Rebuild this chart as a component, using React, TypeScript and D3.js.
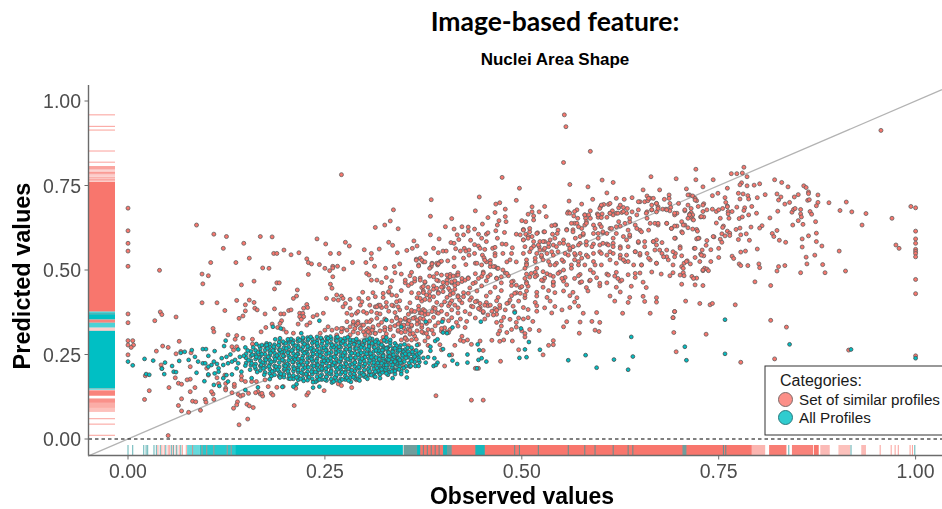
import React from "react";
import * as d3 from "d3";

const xTicks = [0, 0.25, 0.5, 0.75, 1];
const yTicks = [0, 0.25, 0.5, 0.75, 1];
const categories = ["Set of similar profiles", "All Profiles"];

const similarLeft = [[0,.683],[0,.616],[0,.579],[0,.556],[0,.511],[.087,.633],[.109,.606],[.121,.564],[.125,.599],[.105,.522],[.137,.522],[.147,.579],[.154,.535],[.168,.599],[.183,.598],[.171,.506],[.179,.505],[.185,.549],[.189,.549],[.198,.559],[.207,.545],[.217,.551],[.227,.533],[.229,.522],[.233,.518],[.240,.592],[.251,.577],[.257,.549],[.243,.516],[.250,.505],[.260,.511],[.260,.506],[.266,.511],[.268,.549],[.274,.503],[.271,.782],[.276,.582],[.281,.571],[.285,.522],[.300,.560],[.302,.522],[.309,.549],[.309,.533],[.313,.511],[.314,.626],[.319,.562],[.040,.499],
[.094,.488],[.102,.483],[.095,.459],[.144,.456],[.160,.467],[.189,.462],[.192,.462],[.186,.444],[.215,.441],[.214,.423],[.210,.416],[.229,.487],[.257,.458],[.259,.446],[.256,.498],[.260,.480],[.303,.490],[.306,.485],[.309,.470],[.316,.470],[.298,.434],[.311,.433],[.265,.426],[.271,.423],[.252,.416],[.261,.413],[.267,.411],[.273,.416],[.282,.413],[.276,.401],[.273,.391],[.282,.387],[.293,.416],[.297,.406],[.305,.416],[.314,.421],[.094,.403],[.113,.403],[.138,.410],[.154,.411],[.160,.404],[.149,.397],[.149,.379],[.123,.380],[.161,.387],[.164,.382],[.146,.364],[.141,.357],[.174,.370],[.186,.385],[.194,.370],[.198,.370],[.204,.380],[.207,.382],[.218,.372],[.222,.372],[.218,.362],[.223,.362],[.220,.354],[.227,.398],[.228,.389],[.223,.387],[.240,.367],[.248,.372],[.235,.362],[.195,.350],[.193,.342],[.183,.340],[.175,.330],[.169,.317],[.190,.330],[.197,.325],[.201,.316],[.227,.337],[.231,.344],[.216,.340],[.210,.313],[0,.370],[0,.344],[.041,.376],[.043,.368],[.034,.350],[.061,.361],[.108,.327],[.109,.317],[0,.291],[0,.278],[.006,.291],[.007,.278],[.004,.271],[0,.249],[.065,.289],[.044,.275],[.051,.271],[.036,.260],[.061,.252],[.067,.259],[.042,.219],[.043,.209],[.022,.187],[.060,.181],[.079,.177],[.075,.175],[.064,.165],[.068,.162],[.052,.152],[.027,.143],[.021,.117],[.085,.152],[.079,.140],[.068,.119],[.082,.112],[.086,.110],[.064,.099],[.068,.083],[.077,.079],[.092,.085],[.098,.117],[.099,.109],[.108,.133],[.109,.117],[.106,.140],[.124,.150],[.124,.145],[.135,.155],[.113,.181],[.123,.189],[.102,.189],[.132,.137],[.140,.132],[.143,.127],[.146,.130],[.139,.110],[.138,.101],[.134,.091],[.151,.103],[.154,.098],[.159,.093],[.152,.059],[.141,.042],[.051,.010],[.211,.099],[.165,.140],[.168,.133],[.171,.127],[.170,.135],[.153,.135],[.162,.137],[.178,.155],[.182,.135],[.184,.130],[.189,.153],[.197,.155],[.227,.130],[.229,.137],[.249,.143],[.267,.163],[.271,.158],[.284,.152],[.290,.175],[.213,.150],[.144,.186],[.149,.170],[.144,.175],[.157,.170],[.163,.170],[.174,.175],[.127,.308],[.138,.306],[.136,.295],[.146,.298],[.158,.295],[.158,.281],[.132,.273],[.138,.273],[.134,.263],[.079,.214],[.080,.255],[.100,.209],[.124,.164],[.135,.162],[.115,.164],
[.244,.313],[.250,.322],[.254,.332],[.259,.322],[.265,.327],[.271,.317],[.273,.327],[.278,.322],[.282,.332],[.286,.342],[.292,.347],[.297,.337],[.303,.347],[.309,.352],[.316,.357],[.299,.317],[.305,.327],[.311,.327],[.318,.337],[.301,.308],[.307,.313],[.314,.313],[.292,.313],[.286,.317],[.282,.308],[.265,.308],[.290,.337],[.303,.372],[.309,.377],[.316,.372],[.290,.372],[.284,.367],[.278,.372],[.299,.377],[.307,.396],[.314,.391],[.318,.396],[.295,.396],[.292,.377]];

const similarTop = [[.554,.959],[.556,.924],[.587,.851],[.553,.818],[.475,.774],[.497,.742],[.446,.716],[.385,.708],[.493,.706],[.337,.678],[.472,.699],[.467,.695],[.479,.680],[.466,.670],[.441,.675],[.384,.659],[.457,.655],[.479,.658],[.471,.646],[.333,.645],[.326,.633],[.343,.622],[.411,.652],[.403,.628],[.424,.628],[.432,.627],[.414,.621],[.440,.621],[.450,.636],[.469,.633],[.467,.616],[.480,.643],[.432,.615],[.418,.604],[.426,.604],[.445,.606],[.455,.606],[.457,.610],[.478,.611],[.384,.604],[.395,.592],[.363,.586],[.331,.582],[.336,.573],[.342,.551],[.367,.571],[.361,.564],[.354,.558],[.388,.564],[.394,.551],[.400,.556],[.404,.556],[.378,.549],[.410,.581],[.414,.579],[.420,.590],[.435,.588],[.440,.575],[.445,.571],[.449,.594],[.455,.584],[.469,.594],[.475,.577],[.480,.576],[.488,.566],[.416,.563],[.422,.556],[.427,.564],[.429,.556],[.433,.559],[.433,.544],[.440,.549],[.447,.564],[.453,.561],[.463,.564],[.466,.567],[.466,.549],[.466,.542],[.450,.544],[.452,.536],[.476,.549],[.487,.549],[.426,.535],[.414,.536],[.406,.527],[.396,.524],[.393,.515],[.386,.520],[.385,.510],[.375,.524],[.369,.515],[.371,.535],[.366,.532],[.345,.518],[.338,.510],[.327,.505],[.441,.520],[.429,.516],[.414,.510],[.455,.524],[.460,.528],[.466,.510],[.460,.510],[.469,.505],[.481,.524],[.485,.530],[.493,.524],[.506,.520],
[.493,.606],[.500,.646],[.505,.643],[.508,.665],[.513,.672],[.513,.687],[.515,.660],[.515,.648],[.522,.672],[.529,.688],[.531,.658],[.502,.620],[.498,.604],[.505,.606],[.510,.613],[.513,.599],[.520,.610],[.528,.613],[.538,.631],[.543,.633],[.546,.618],[.539,.606],[.545,.608],[.557,.620],[.565,.619],[.567,.638],[.561,.753],[.584,.746],[.602,.766],[.616,.759],[.664,.776],[.696,.770],[.654,.737],[.675,.737],[.608,.728],[.620,.712],[.630,.709],[.640,.714],[.659,.719],[.663,.712],[.667,.712],[.681,.709],[.687,.722],[.687,.712],[.560,.704],[.590,.709],[.576,.695],[.559,.672],[.558,.668],[.570,.678],[.566,.660],[.571,.653],[.580,.663],[.585,.663],[.581,.653],[.587,.675],[.600,.687],[.604,.694],[.610,.694],[.599,.682],[.596,.666],[.597,.656],[.602,.666],[.601,.655],[.612,.668],[.615,.675],[.608,.656],[.616,.663],[.620,.668],[.627,.670],[.623,.684],[.629,.685],[.634,.682],[.633,.668],[.640,.672],[.650,.702],[.656,.702],[.660,.705],[.665,.692],[.671,.697],[.673,.687],[.679,.680],[.683,.680],[.688,.697],[.689,.685],[.699,.697],[.648,.678],[.659,.672],[.665,.678],[.671,.672],[.688,.675],[.697,.668],[.694,.663],[.570,.638],[.576,.623],[.582,.643],[.580,.633],[.591,.633],[.599,.635],[.601,.628],[.612,.623],[.623,.643],[.631,.638],[.637,.643],[.644,.633],[.620,.628],[.635,.618],[.650,.618],[.659,.653],[.663,.638],[.669,.638],[.673,.633],[.684,.638],[.690,.623],[.697,.630],[.695,.594],[.667,.584],[.671,.589],[.678,.581],[.656,.584],[.648,.581],[.616,.594],[.629,.599],[.637,.599],[.608,.608],[.603,.610],[.597,.608],[.591,.608],[.574,.599],[.568,.594],[.578,.604],[.553,.589],[.559,.574],[.565,.569],[.574,.579],[.582,.574],[.591,.577],[.599,.574],[.608,.577],[.616,.579],[.625,.569],[.635,.569],[.523,.584],[.529,.584],[.536,.589],[.542,.594],[.548,.579],[.502,.589],[.508,.599],[.515,.571],[.522,.569],[.528,.559],[.534,.569],[.540,.574],
[.502,.549],[.510,.554],[.519,.549],[.525,.539],[.532,.549],[.540,.544],[.546,.554],[.555,.549],[.561,.559],[.568,.544],[.574,.549],[.582,.544],[.591,.549],[.599,.554],[.608,.544],[.616,.549],[.625,.544],[.633,.544],[.644,.554],[.650,.544],[.659,.549],[.669,.559],[.678,.549],[.684,.539],[.695,.549],[.506,.515],[.517,.525],[.527,.530],[.536,.515],[.544,.520],[.553,.525],[.563,.515],[.572,.525],[.580,.515],[.591,.525],[.601,.515],[.612,.530],[.620,.520],[.631,.525],[.642,.515],[.652,.515],[.663,.530],[.671,.520],[.686,.530],[.692,.515]];

const similarMiddle = [[.339,.492],[.347,.488],[.360,.493],[.409,.487],[.419,.492],[.441,.489],[.451,.494],[.460,.486],[.479,.491],[.506,.488],[.517,.493],[.532,.489],[.548,.494],[.574,.487],[.591,.492],[.608,.488],[.620,.493],[.635,.486],[.650,.491],[.665,.494],[.677,.488],[.692,.492],
[.328,.478],[.358,.483],[.371,.476],[.383,.482],[.407,.478],[.417,.484],[.432,.477],[.449,.481],[.468,.476],[.483,.483],[.510,.479],[.519,.484],[.529,.476],[.540,.481],[.555,.478],[.572,.483],[.595,.477],[.618,.482],[.644,.478],[.688,.483],
[.322,.463],[.335,.468],[.352,.462],[.364,.467],[.377,.463],[.394,.468],[.411,.462],[.424,.466],[.441,.463],[.455,.468],[.474,.462],[.489,.467],[.506,.464],[.527,.468],[.540,.462],[.553,.467],[.574,.463],[.586,.468],[.608,.462],[.625,.467],[.654,.464],
[.333,.449],[.356,.454],[.373,.448],[.388,.453],[.400,.449],[.415,.454],[.434,.447],[.449,.453],[.466,.449],[.487,.454],[.498,.448],[.508,.452],[.527,.449],[.540,.454],[.582,.448],[.599,.453],[.620,.449],[.639,.452],[.658,.448],
[.331,.434],[.347,.439],[.360,.433],[.375,.438],[.394,.434],[.409,.439],[.426,.433],[.443,.438],[.460,.434],[.474,.439],[.493,.433],[.506,.438],[.519,.434],[.534,.439],[.542,.433],[.553,.438],[.565,.434],[.584,.438],[.625,.435],
[.324,.419],[.341,.424],[.367,.418],[.383,.423],[.405,.419],[.419,.424],[.436,.418],[.455,.423],[.470,.419],[.487,.424],[.504,.418],[.519,.423],[.532,.419],[.561,.424],[.570,.418],[.612,.423],[.637,.419],[.654,.422],[.671,.418],
[.328,.404],[.345,.409],[.358,.403],[.373,.408],[.392,.404],[.411,.409],[.424,.403],[.443,.408],[.455,.404],[.468,.409],[.483,.403],[.496,.408],[.517,.404],[.536,.408],[.567,.405],[.618,.408],[.635,.404],[.656,.407],[.671,.405],
[.322,.389],[.337,.394],[.354,.388],[.369,.393],[.388,.389],[.407,.394],[.419,.388],[.436,.393],[.447,.389],[.457,.394],[.472,.388],[.489,.393],[.502,.389],[.519,.394],[.529,.388],[.542,.392],[.561,.389],[.572,.393],
[.331,.378],[.345,.382],[.360,.377],[.375,.383],[.398,.378],[.411,.382],[.428,.377],[.447,.383],[.462,.378],[.479,.382],[.491,.377],[.508,.383],[.519,.378],[.551,.382],
[.320,.370],[.339,.374],[.356,.369],[.371,.373],[.377,.368],[.392,.374],[.405,.369],[.419,.373],[.434,.370],[.451,.374],[.468,.369],[.538,.373],[.578,.372],[.595,.374],[.628,.372],[.663,.372],[.694,.377],
[.326,.355],[.341,.360],[.352,.354],[.364,.359],[.375,.355],[.388,.360],[.400,.354],[.411,.359],[.422,.355],[.441,.358],[.453,.355],[.477,.360],[.485,.354],[.496,.358],[.502,.355],[.508,.359],[.692,.359],
[.322,.345],[.335,.349],[.345,.344],[.356,.350],[.369,.345],[.383,.349],[.394,.344],[.407,.350],[.417,.345],[.430,.348],[.468,.345],[.474,.349],[.493,.345],[.514,.348],[.557,.347],[.574,.346],[.589,.348],[.599,.345],
[.326,.330],[.339,.335],[.350,.329],[.360,.334],[.373,.330],[.390,.335],[.402,.329],[.419,.334],[.428,.330],[.474,.334],[.493,.331],[.553,.332],
[.320,.320],[.333,.324],[.343,.319],[.356,.325],[.367,.320],[.381,.324],[.398,.319],[.409,.324],[.472,.320],[.487,.324],[.500,.320],[.510,.324],[.522,.321],[.593,.322],[.598,.318],
[.328,.311],[.347,.315],[.358,.310],[.375,.314],[.388,.311],[.407,.315],[.470,.311],[.481,.315],[.504,.312],[.573,.313],
[.324,.301],[.337,.305],[.352,.300],[.364,.304],[.381,.301],[.424,.304],[.504,.302],
[.322,.289],[.354,.293],[.377,.290],[.422,.292],[.426,.289],[.431,.293],[.447,.290],[.462,.292],[.472,.289],[.477,.293],[.488,.290],[.540,.291],
[.356,.276],[.369,.280],[.381,.277],[.396,.279],[.415,.277],[.436,.280],[.534,.277],[.540,.279],
[.362,.262],[.398,.264],[.451,.262],[.496,.264],[.411,.249],[.527,.249],[.693,.315],[.696,.258],[.692,.359],[.694,.377],[.473,.230],[.402,.216],[.445,.209],[.441,.209],[.391,.128],[.436,.115],[.451,.115],[.350,.214],[.341,.231]];

const similarRight = [[.956,.913],[.721,.798],[.721,.767],[.743,.767],[.766,.785],[.773,.785],[.780,.787],[.782,.804],[.786,.776],[.779,.758],[.777,.752],[.786,.749],[.795,.751],[.802,.755],[.821,.767],[.830,.759],[.838,.746],[.858,.749],[.861,.744],[.864,.731],[.864,.726],[.876,.722],[.709,.740],[.730,.746],[.761,.742],[.713,.722],[.717,.719],[.720,.712],[.722,.705],[.742,.720],[.749,.727],[.775,.727],[.781,.725],[.787,.720],[.788,.710],[.777,.710],[.758,.714],[.759,.700],[.761,.689],[.799,.714],[.809,.723],[.824,.725],[.829,.716],[.826,.707],[.846,.716],[.851,.723],[.840,.700],[.834,.695],[.863,.706],[.865,.708],[.876,.700],[.874,.690],[.890,.699],[.912,.701],[.994,.688],[1,.684],[.711,.692],[.724,.688],[.731,.696],[.715,.682],[.707,.675],[.715,.670],[.713,.665],[.717,.663],[.714,.658],[.711,.653],[.717,.650],[.730,.673],[.735,.678],[.742,.680],[.747,.673],[.750,.678],[.755,.682],[.761,.687],[.762,.673],[.767,.673],[.762,.666],[.773,.686],[.783,.684],[.782,.676],[.792,.688],[.727,.657],[.731,.657],[.752,.653],[.763,.653],[.776,.652],[.780,.657],[.788,.663],[.798,.668],[.825,.674],[.815,.654],[.843,.671],[.845,.679],[.847,.682],[.854,.679],[.854,.666],[.855,.657],[.866,.673],[.868,.665],[.904,.676],[.919,.672],[.937,.667],[.970,.653],[.703,.643],[.707,.633],[.711,.625],[.717,.621],[.722,.620],[.723,.615],[.703,.613],[.704,.610],[.747,.639],[.756,.630],[.755,.626],[.851,.646],[.844,.633],[.857,.635],[.873,.643],[.932,.633],[.772,.620],[.777,.624],[.791,.627],[.805,.631],[.802,.624],[.761,.615],[.764,.609],[.764,.602],[.754,.607],[.758,.601],[.778,.604],[.785,.607],[.744,.598],[.725,.594],[.722,.592],[.752,.591],[.754,.582],[.735,.587],[.734,.573],[.775,.590],[.789,.588],[.818,.608],[.820,.599],[.824,.617],[.827,.588],[.835,.582],[.874,.609],[.864,.601],[.856,.592],[.874,.584],[.856,.568],[.881,.571],[1,.615],[1,.592],[1,.579],[1,.561],[1,.555],[1,.549],[1,.539],[.975,.574],[.979,.564],[.903,.556],[.701,.569],[.719,.564],[.750,.564],[.740,.560],[.729,.559],[.727,.547],[.731,.542],[.720,.537],[.703,.542],[.750,.537],[.740,.525],[.726,.525],[.710,.527],[.706,.520],[.714,.518],[.778,.553],[.784,.556],[.799,.562],[.767,.541],[.769,.534],[.776,.518],[.778,.513],[.787,.513],[.801,.518],[.802,.507],[.826,.510],[.834,.513],[.861,.538],[.872,.544],[.862,.518],[.882,.516],[.732,.505],[.735,.503],[.703,.510],
[.705,.492],[.706,.483],[.716,.481],[.722,.476],[.703,.458],[.720,.456],[.730,.454],[.730,.498],[.737,.498],[.708,.408],[.726,.401],[.739,.397],[.742,.401],[.771,.397],[.796,.465],[.816,.454],[.824,.497],[.854,.492],[.885,.492],[.911,.497],[1,.472],[1,.430],[.816,.351],[.836,.331],[.734,.310],[.778,.227],[.821,.237],[.915,.263],[1,.246]];

const similarDenseLow = [[.405,.485],[.409,.480],[.413,.482],[.419,.485],[.424,.475],[.428,.470],[.411,.465],[.415,.468],[.405,.470],[.419,.460],[.400,.451],[.407,.446],[.415,.443],
[.369,.431],[.375,.433],[.379,.426],[.383,.436],[.371,.416],[.377,.413],[.383,.411],[.388,.421],[.394,.431],[.400,.436],[.409,.426],[.413,.431],[.419,.421],
[.360,.381],[.364,.377],[.369,.383],[.373,.372],[.377,.379],[.381,.370],[.386,.377],[.390,.386],[.394,.372],[.398,.396],[.402,.406],[.409,.401],[.415,.396],[.421,.411],
[.341,.357],[.346,.352],[.352,.357],[.357,.350],[.362,.357],[.367,.352],[.371,.357],[.343,.340],[.350,.337],[.355,.340],[.360,.337],[.367,.340],[.373,.337],[.379,.342],
[.316,.391],[.320,.396],[.328,.391],[.335,.396],[.341,.406],[.343,.391],[.324,.431],[.331,.436],[.335,.426],
[.278,.347],[.286,.347],[.292,.342],[.299,.337],[.307,.347],[.311,.332],[.288,.327],[.295,.327],[.303,.322],[.310,.322],[.271,.327],[.305,.317],[.314,.312],[.326,.322],[.333,.332],[.343,.322],[.352,.317],[.358,.322],[.362,.312],[.373,.317],[.379,.312],[.386,.322],[.398,.327],[.405,.317],[.352,.298],[.360,.293],[.366,.295],[.347,.293],
[.434,.411],[.441,.406],[.447,.401],[.453,.396],[.460,.396],[.466,.386],[.438,.391],[.445,.386],[.451,.377],[.457,.367],[.432,.431],[.426,.421],
[.443,.520],[.449,.515],[.453,.529],[.460,.520],[.464,.510],[.470,.505],[.476,.500],[.481,.490],[.474,.480],[.468,.475],[.457,.480],[.451,.490],[.445,.475],[.438,.460],[.432,.475],
[.487,.465],[.493,.455],[.500,.451],[.506,.460],[.491,.431],[.498,.431],[.504,.426],[.485,.411],[.481,.401],[.472,.396],[.468,.381],[.464,.367],
[.366,.529],[.373,.529],[.377,.524],[.386,.518],[.392,.520],[.398,.526],[.369,.512],[.383,.505],[.394,.518],[.352,.470],[.360,.460],[.371,.470],[.377,.465],[.364,.475],[.375,.451],[.381,.449],[.388,.443],[.392,.446],[.398,.449],[.405,.460],[.392,.470],[.400,.463],[.388,.480],[.398,.485],[.392,.490]];

const similarDenseHigh = [[.502,.589],[.508,.594],[.515,.584],[.521,.574],[.527,.584],[.534,.579],[.504,.569],[.512,.564],[.523,.559],[.529,.564],[.538,.554],[.544,.569],[.553,.579],[.561,.564],[.567,.549],[.572,.574],[.582,.584],[.589,.569],[.597,.594],[.603,.579],[.610,.574],[.616,.569],[.625,.564],[.633,.589],[.637,.604],[.620,.608],[.614,.623],[.625,.630],[.603,.613],[.593,.623],
[.506,.530],[.517,.535],[.525,.544],[.534,.525],[.542,.515],[.551,.530],[.559,.544],[.567,.530],[.576,.535],[.584,.539],[.593,.515],[.601,.549],[.612,.554],[.625,.535],[.629,.530],[.635,.525],[.644,.554],[.650,.549],
[.504,.505],[.512,.490],[.519,.505],[.527,.495],[.536,.485],[.546,.490],[.553,.500],[.563,.505],[.572,.515],[.587,.500],[.504,.475],[.517,.480],[.525,.470],[.540,.465],[.551,.475],[.557,.456],[.567,.475],[.576,.465],[.587,.470],[.599,.461],[.610,.485],[.622,.475],[.627,.470],[.644,.490],[.652,.515],[.661,.535],[.671,.520],
[.561,.668],[.567,.673],[.580,.663],[.587,.653],[.597,.663],[.612,.668],[.622,.668],[.629,.673],[.637,.653],[.646,.663],[.658,.668],[.665,.678],[.673,.682],[.684,.678],[.694,.668],[.707,.678],[.713,.663],[.718,.648],[.705,.633],[.694,.630],[.684,.638],[.673,.638],[.661,.618],[.652,.613],[.646,.623],
[.563,.638],[.572,.628],[.582,.638],[.578,.608],[.565,.613],[.557,.618],[.542,.633],[.529,.613],[.519,.608],[.510,.623],[.502,.618],
[.667,.584],[.671,.574],[.648,.584],[.656,.569],[.675,.559],[.684,.559],[.692,.554],[.701,.564],[.694,.539],[.680,.539],[.709,.525],[.705,.505],[.701,.485],[.718,.475],[.730,.500],[.728,.544],[.720,.564],[.743,.599],[.724,.594],[.694,.594],[.690,.623],
[.625,.692],[.612,.697],[.601,.692],[.648,.702],[.661,.712],[.671,.697],[.711,.722],[.720,.707],[.730,.692],[.728,.658]];

const allProfilesScatter = [[0,.229],[.006,.218],[.021,.237],[.032,.232],[.047,.226],[.056,.216],[.065,.231],[.023,.192],[.027,.190],[.046,.192],[.043,.208],[.058,.199],[.061,.198],[.067,.255],[.072,.258],[.077,.234],[.085,.243],[.081,.263],[.095,.266],[.099,.266],[.110,.260],[.102,.246],[.089,.229],[.095,.224],[.098,.224],[.109,.229],[.113,.222],[.106,.219],[.102,.214],[.115,.209],[.087,.196],[.102,.191],[.110,.194],[.115,.199],[.097,.171],[.109,.160],[.116,.157],[.124,.291],[.122,.275],[.125,.243],[.119,.239],[.130,.250],[.121,.219],[.127,.224],[.132,.229],[.136,.234],[.125,.189],[.132,.191],[.121,.180],[.127,.170],[.140,.265],[.149,.271],[.142,.243],[.140,.224],[.138,.209],[.144,.199],[.149,.145],[.165,.153],[.157,.180],[.180,.177],[.196,.154],[.235,.152],[.243,.155],[.214,.162],[.210,.155],[.314,.184],[.243,.350],[.194,.327],[.184,.332],[.220,.313],[.193,.298],[.187,.295],[.203,.295],[.163,.281],[.170,.278],[.176,.278],[.314,.288],[.307,.298],
[.328,.352],[.347,.332],[.378,.347],[.399,.347],[.448,.347],[.491,.374],[.499,.327],[.400,.315],[.405,.313],[.412,.330],[.328,.300],[.333,.293],[.509,.287],[.390,.290],[.393,.295],[.367,.278],[.384,.273],[.384,.261],[.400,.266],[.444,.280],[.446,.263],[.504,.265],[.523,.264],[.639,.302],[.370,.253],[.364,.244],[.369,.234],[.369,.216],[.381,.242],[.389,.239],[.393,.226],[.388,.216],[.391,.219],[.408,.248],[.412,.232],[.418,.222],[.431,.250],[.431,.226],[.445,.234],[.449,.239],[.455,.229],[.443,.209],[.497,.240],[.506,.242],[.359,.216],[.559,.233],[.581,.248],[.595,.211],[.617,.235],[.635,.205],[.641,.244],[.336,.180],[.347,.192],[.354,.182],[.339,.201],[.328,.194],[.322,.206],[.323,.263],[.328,.268],[.339,.268],[.345,.263],[.350,.258],[.352,.252],[.324,.246],[.332,.244],[.337,.249],[.343,.239],[.324,.229],[.331,.234],[.336,.219],[.345,.234],[.328,.219],[.322,.224],[.339,.229],
[.758,.353],[.707,.273],[.709,.233],[.758,.252],[.840,.280],[.918,.265],[1,.239]];

const coreColumns: [number, number[]][] = [
[.150,[.225,.240,.252]],[.156,[.218,.232,.246,.259]],[.162,[.208,.222,.237,.249,.262]],[.168,[.203,.216,.231,.244,.257,.268]],[.174,[.197,.212,.225,.238,.251,.263,.276]],[.180,[.194,.207,.221,.233,.247,.259,.272,.281]],[.186,[.190,.203,.216,.230,.242,.255,.268,.279]],[.192,[.186,.199,.213,.226,.239,.252,.264,.277,.287]],[.198,[.183,.191,.205,.218,.231,.245,.258,.270,.283]],[.204,[.179,.193,.207,.219,.233,.246,.258,.272,.285,.292]],[.210,[.178,.188,.201,.214,.227,.240,.253,.266,.279,.291]],[.216,[.175,.185,.198,.211,.224,.237,.251,.263,.276,.289,.297]],[.222,[.180,.193,.206,.219,.233,.246,.259,.272,.285,.296]],[.228,[.174,.186,.199,.213,.226,.239,.252,.265,.278,.291,.300]],[.234,[.178,.192,.205,.218,.231,.245,.258,.271,.284,.296]],[.240,[.172,.184,.197,.211,.224,.237,.250,.263,.277,.290,.302]],[.246,[.176,.190,.203,.216,.229,.243,.256,.269,.282,.295]],[.252,[.173,.185,.198,.211,.225,.238,.251,.264,.277,.290,.301]],[.258,[.177,.191,.204,.217,.230,.244,.257,.270,.283,.296]],[.264,[.174,.185,.198,.212,.225,.238,.251,.265,.278,.291,.300]],[.270,[.178,.192,.205,.218,.231,.245,.258,.271,.284,.295]],[.276,[.176,.186,.199,.212,.226,.239,.252,.265,.279,.291]],[.282,[.181,.193,.206,.219,.233,.246,.259,.272,.285,.294]],[.288,[.179,.188,.201,.214,.227,.240,.254,.267,.280,.290]],[.294,[.184,.196,.209,.222,.235,.248,.261,.275,.287]],[.300,[.185,.191,.204,.217,.230,.243,.256,.269,.282,.291]],[.306,[.189,.199,.212,.225,.238,.251,.264,.277,.286]],[.312,[.193,.207,.220,.233,.246,.259,.272,.283]],[.318,[.197,.203,.216,.229,.241,.254,.267,.279]],[.324,[.200,.212,.225,.238,.250,.263,.274]],[.330,[.205,.219,.232,.245,.258,.270]],[.336,[.211,.224,.237,.250,.262]],[.342,[.218,.231,.244,.256]],[.348,[.226,.240,.251]]];

const coreIrregular = [[.153,.233],[.158,.249],[.147,.246],[.161,.214],[.165,.256],[.171,.226],[.166,.241],[.172,.209],[.177,.268],[.178,.243],[.183,.200],[.182,.228],[.184,.262],[.188,.214],[.189,.247],[.191,.277],[.194,.193],[.196,.234],[.195,.258],[.199,.209],[.200,.283],[.202,.222],[.201,.268],[.205,.187],[.206,.241],[.207,.296],[.208,.262],[.211,.208],[.212,.235],[.213,.276],[.214,.182],[.215,.251],[.217,.218],[.218,.292],[.219,.266],[.220,.196],[.221,.239],[.223,.172],[.224,.281],[.225,.211],[.226,.257],[.227,.226],[.229,.295],[.230,.183],[.231,.241],[.232,.268],[.233,.199],[.235,.252],[.236,.216],[.237,.287],[.238,.169],[.239,.231],[.241,.275],[.242,.205],[.243,.258],[.244,.187],[.245,.299],[.247,.222],[.248,.241],[.249,.270],[.250,.176],[.251,.208],[.253,.286],[.254,.232],[.255,.254],[.256,.194],[.257,.303],[.259,.167],[.260,.219],[.261,.272],[.262,.243],[.263,.182],[.265,.291],[.266,.206],[.267,.259],[.268,.229],[.269,.171],[.271,.283],[.272,.198],[.273,.247],[.274,.214],[.275,.298],[.277,.265],[.278,.181],[.279,.236],[.280,.207],[.281,.276],[.283,.169],[.284,.254],[.285,.222],[.286,.292],[.287,.192],[.289,.241],[.290,.268],[.291,.209],[.292,.176],[.293,.285],[.295,.229],[.296,.255],[.297,.195],[.298,.278],[.299,.216],[.301,.242],[.302,.183],[.303,.294],[.304,.265],[.305,.206],[.307,.232],[.308,.253],[.309,.189],[.310,.283],[.311,.218],[.313,.271],[.314,.199],[.315,.241],[.316,.293],[.317,.225],[.319,.261],[.320,.191],[.321,.210],[.322,.279],[.323,.246],[.325,.220],[.326,.268],[.327,.205],[.328,.288],[.329,.236],[.331,.256],[.332,.198],[.333,.276],[.334,.228],[.335,.212],[.337,.268],[.338,.243],[.339,.283],[.340,.205],[.341,.224],[.343,.262],[.344,.236],[.345,.214],[.346,.277],[.347,.200],[.349,.248],[.351,.229],[.352,.265],[.353,.215],[.355,.243],[.356,.258],[.357,.225],[.359,.236],[.360,.270],[.362,.250],[.364,.228],[.366,.262],[.369,.241]];

const coreIrregularTop = [[.149,.217],[.152,.262],[.155,.205],[.157,.224],[.159,.271],[.163,.243],[.164,.198],[.167,.275],[.169,.219],[.170,.251],[.173,.190],[.175,.234],[.176,.283],[.179,.215],[.181,.254],[.182,.186],[.185,.273],[.187,.236],[.190,.205],[.193,.264],[.193,.182],[.197,.246],[.197,.288],[.200,.216],[.203,.255],[.203,.200],[.206,.178],[.209,.284],[.209,.228],[.213,.246],[.216,.204],[.216,.270],[.219,.178],[.220,.229],[.222,.300],[.224,.254],[.226,.192],[.228,.274],[.229,.212],[.232,.302],[.233,.237],[.235,.168],[.236,.262],[.238,.198],[.240,.283],[.241,.219],[.243,.176],[.244,.246],[.246,.208],[.247,.290],[.249,.231],[.251,.262],[.252,.184],[.254,.298],[.255,.215],[.257,.239],[.258,.200],[.259,.278],[.261,.170],[.262,.226],[.264,.255],[.265,.190],[.266,.302],[.268,.273],[.269,.212],[.270,.237],[.272,.176],[.273,.289],[.275,.256],[.276,.196],[.277,.222],[.279,.301],[.280,.173],[.282,.266],[.283,.240],[.284,.204],[.286,.183],[.287,.280],[.288,.226],[.290,.296],[.292,.250],[.293,.213],[.294,.173],[.296,.271],[.297,.238],[.299,.190],[.300,.290],[.301,.222],[.303,.252],[.304,.178],[.306,.274],[.307,.200],[.309,.242],[.310,.296],[.312,.226],[.313,.185],[.315,.262],[.316,.210],[.318,.285],[.319,.236],[.320,.180],[.322,.256],[.323,.197],[.325,.292],[.326,.228],[.328,.212],[.329,.270],[.330,.190],[.332,.244],[.333,.285],[.335,.200],[.336,.258],[.338,.222],[.339,.192],[.341,.276],[.342,.240],[.344,.206],[.345,.270],[.346,.226],[.348,.262],[.350,.210],[.351,.280],[.353,.240],[.354,.200],[.355,.270],[.357,.250],[.358,.214],[.360,.230],[.361,.258],[.363,.240],[.365,.216],[.367,.250],[.370,.228],[.372,.258],[.375,.240],[.378,.226]];

// rug summaries: [from, to, density]
const similarYBands = [[.377,.761,1],[.368,.372,.9],[.344,.354,.9],[.262,.330,.35],[.149,.168,.6],[.128,.144,.9],[.107,.120,.8],[.092,.107,.6],[.080,.092,.45]];
const similarYTicks = [.959,.925,.914,.852,.819,.806,.803,.800,.796,.790,.788,.785,.781,.775,.772,.768,.764,.060,.044,.011];
const allYBands = [[.151,.320,1],[.360,.377,.7],[.354,.368,1],[.330,.344,.7],[.145,.166,.5]];
const similarXBands = [[.350,.792,1],[.792,.809,.55],[.814,.836,.95],[.843,.870,.9],[.871,.877,1],[.879,.891,.5],[.902,.917,.45],[.931,.937,.5]];
const similarXTicks = [.038,.043,.046,.051,.053,.057,.061,.065,.069,.074,.082,.094,.100,.109,.126,.131,.955,.969,.974,.978,.993,.996];
const allXBands = [[.075,.091,.6],[.091,.136,.85],[.136,.349,1],[.350,.367,.55],[.367,.371,1],[.400,.405,.9],[.405,.411,.55],[.441,.453,.9],[.704,.709,.55]];
const allXTicks = [0,.006,.020,.023,.025,.033,.036,.041,.048,.055,.058,.062,.067,.375,.380,.385,.390,.395,.491,.497,.521,.559,.580,.593,.616,.635,.641,.756,.759,.839,.918,.999];

const W = 942, H = 509;
const left = 88.5, bottom = 455.5;
const x = d3.scaleLinear().domain([0, 1]).range([128, 915.6]);
const y = d3.scaleLinear().domain([0, 1]).range([439, 101]);
const RED = "#F8766D", CYAN = "#00BFC4";
const fmt = d3.format(".2f");
const rugW = 26.5, rugH = 10.5;

const similar = [...similarLeft, ...similarTop, ...similarMiddle, ...similarRight, ...similarDenseLow, ...similarDenseHigh];
const all = [...coreColumns.flatMap(([cx, ys]) => ys.map(v => [cx, v])), ...coreIrregular, ...coreIrregularTop, ...allProfilesScatter];

export default function App() {
  const ax = "#6b6b6b";
  return (
    <svg width={W} height={H} viewBox={`0 0 ${W} ${H}`} style={{ position: "absolute", left: 0, top: 0, background: "#fff", fontFamily: "'Liberation Sans', Arial, sans-serif" }}>
      <defs>
        <filter id="soft" x="0" y="0" width="100%" height="100%"><feGaussianBlur stdDeviation="0.35" /></filter>
      </defs>
      <text x={555} y={31} textAnchor="middle" fontFamily="Lato, sans-serif" fontWeight="700" fontSize={26.5} fill="#000">Image-based feature:</text>
      <text x={555} y={65} textAnchor="middle" fontWeight="700" fontSize={17} fill="#000">Nuclei Area Shape</text>

      <g filter="url(#soft)">
        {similarYBands.map((b, i) => <rect key={"syb" + i} x={left} width={rugW} y={y(b[1])} height={y(b[0]) - y(b[1])} fill={RED} opacity={b[2]} />)}
        {similarYTicks.map((v, i) => <line key={"syt" + i} x1={left} x2={left + rugW} y1={y(v)} y2={y(v)} stroke={RED} strokeOpacity={0.7} strokeWidth={1} />)}
        {allYBands.map((b, i) => <rect key={"ayb" + i} x={left} width={rugW} y={y(b[1])} height={y(b[0]) - y(b[1])} fill={CYAN} opacity={b[2]} />)}

        {similarXBands.map((b, i) => <rect key={"sxb" + i} y={bottom - rugH} height={rugH} x={x(b[0])} width={x(b[1]) - x(b[0])} fill={RED} opacity={b[2]} />)}
        {allXBands.map((b, i) => <rect key={"axb" + i} y={bottom - rugH} height={rugH} x={x(b[0])} width={x(b[1]) - x(b[0])} fill={CYAN} opacity={b[2]} />)}
        {similarXTicks.map((v, i) => <line key={"sxt" + i} y1={bottom - rugH} y2={bottom} x1={x(v)} x2={x(v)} stroke={RED} strokeOpacity={0.7} strokeWidth={1} />)}
        {allXTicks.map((v, i) => <line key={"axt" + i} y1={bottom - rugH} y2={bottom} x1={x(v)} x2={x(v)} stroke="#2c9a9c" strokeOpacity={0.75} strokeWidth={1} />)}

        <line x1={x(-0.0508)} y1={y(-0.0508)} x2={W} y2={y(x.invert(W))} stroke="#b3b3b3" strokeWidth={1.2} />

        {similar.map((p, i) => <circle key={"s" + i} cx={x(p[0])} cy={y(p[1])} r={2} fill={RED} stroke="#5f5f5f" strokeWidth={0.8} />)}
        {all.map((p, i) => <circle key={"a" + i} cx={x(p[0])} cy={y(p[1])} r={1.9} fill={CYAN} stroke="#4a5252" strokeWidth={0.85} />)}
      </g>

      <line x1={left} x2={W} y1={y(0)} y2={y(0)} stroke="#000" strokeWidth={1} strokeDasharray="3.5 3" />

      <line x1={left} x2={left} y1={85} y2={bottom} stroke={ax} strokeWidth={1.4} />
      <line x1={left} x2={W} y1={bottom} y2={bottom} stroke={ax} strokeWidth={1.4} />
      {yTicks.map(t => (
        <g key={"y" + t}>
          <line x1={left - 4} x2={left} y1={y(t)} y2={y(t)} stroke={ax} strokeWidth={1} />
          <text x={81} y={y(t) + 7} textAnchor="end" fontSize={19.5} fill="#4D4D4D">{fmt(t)}</text>
        </g>
      ))}
      {xTicks.map(t => (
        <g key={"x" + t}>
          <line x1={x(t)} x2={x(t)} y1={bottom} y2={bottom + 4} stroke={ax} strokeWidth={1} />
          <text x={x(t)} y={478} textAnchor="middle" fontSize={19.5} fill="#4D4D4D">{fmt(t)}</text>
        </g>
      ))}
      <text x={522} y={503.5} textAnchor="middle" fontWeight="700" fontSize={23} fill="#000">Observed values</text>
      <text transform="translate(30,276) rotate(-90)" textAnchor="middle" fontWeight="700" fontSize={23.5} fill="#000">Predicted values</text>

      <rect x={765} y={366} width={190} height={69} fill="#fff" stroke="#333" strokeWidth={1} />
      <text x={780} y={386} fontSize={16} fill="#1a1a1a">Categories:</text>
      {categories.map((c, i) => (
        <g key={c}>
          <circle cx={785.5} cy={399.5 + i * 18} r={7} fill={i === 0 ? "#FC8F88" : "#30CCCF"} stroke={i === 0 ? "#7d6b6a" : "#2c7a7e"} strokeWidth={1} />
          <text x={799} y={405 + i * 17.5} fontSize={15.2} fill="#1a1a1a">{c}</text>
        </g>
      ))}
    </svg>
  );
}
